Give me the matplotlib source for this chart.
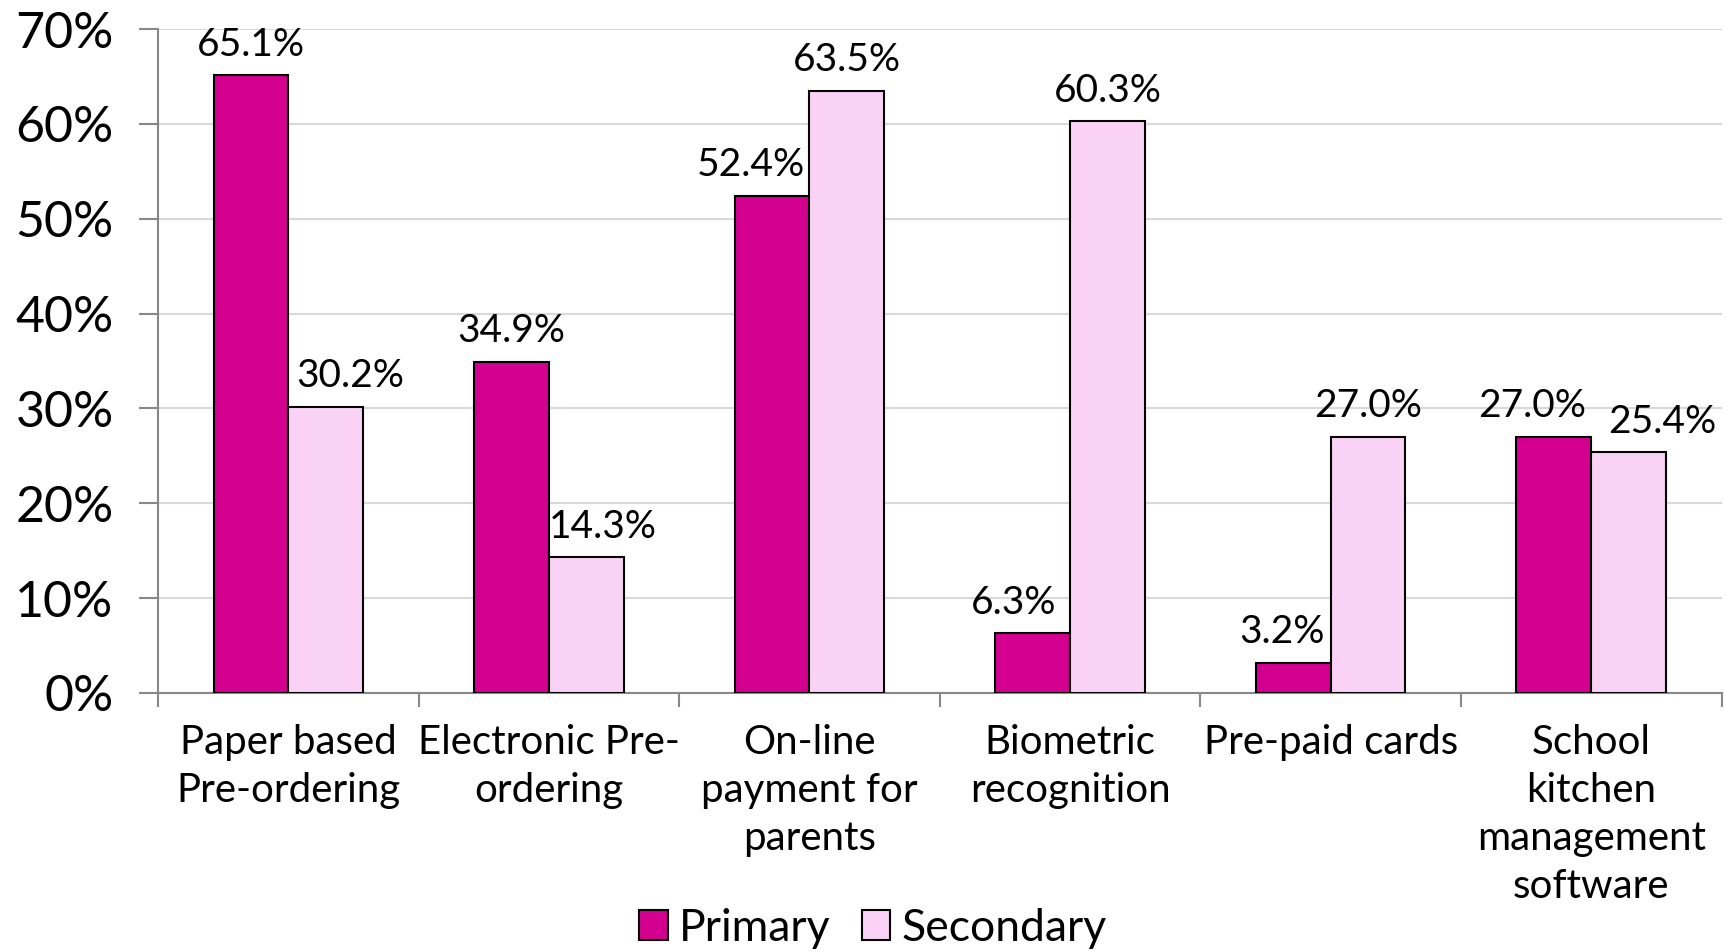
import numpy as np
import matplotlib.pyplot as plt
from matplotlib.patches import Patch

plt.rcParams['font.family'] = ['Lato', 'DejaVu Sans']

# Data
categories = ["Paper based\nPre-ordering", "Electronic Pre-\nordering",
              "On-line\npayment for\nparents", "Biometric\nrecognition",
              "Pre-paid cards", "School\nkitchen\nmanagement\nsoftware"]
primary = [65.1, 34.9, 52.4, 6.3, 3.2, 27.0]
secondary = [30.2, 14.3, 63.5, 60.3, 27.0, 25.4]
series_names = ["Primary", "Secondary"]

# label nudges (x, in category units) as placed in the original
nudge_p = [0, 0, -0.08, -0.072, -0.042, -0.084]
nudge_s = [0.093, 0.063, 0, 0, 0, 0.13]

col_p = '#D4008F'
col_s = '#FAD2F5'

fig = plt.figure(figsize=(17.25, 9.51), dpi=100)
ax = fig.add_axes([0.0916, 0.2713, 0.9064, 0.6982])

x = np.arange(len(categories))
w = 0.287
ax.bar(x - w/2, primary, w, color=col_p, edgecolor='black', linewidth=1.5, zorder=3)
ax.bar(x + w/2, secondary, w, color=col_s, edgecolor='black', linewidth=1.5, zorder=3)

for i in range(len(x)):
    ax.annotate(f"{primary[i]:.1f}%", (x[i] - w/2 + nudge_p[i], primary[i]),
                xytext=(0, 9), textcoords='offset points', ha='center', va='bottom', fontsize=28)
    ax.annotate(f"{secondary[i]:.1f}%", (x[i] + w/2 + nudge_s[i], secondary[i]),
                xytext=(0, 9), textcoords='offset points', ha='center', va='bottom', fontsize=28)

ax.set_xlim(-0.5, len(categories) - 0.5)
ax.set_ylim(0, 70)
ax.set_yticks(np.arange(0, 71, 10))
ax.set_yticklabels([f"{v}%" for v in range(0, 71, 10)], fontsize=36)
ax.yaxis.grid(True, color='#D9D9D9', linewidth=1.5, zorder=0)
ax.set_axisbelow(True)

# category labels between boundary ticks
ax.set_xticks(np.arange(-0.5, len(categories), 1.0))
ax.set_xticklabels([])
ax.set_xticks(x, minor=True)
ax.set_xticklabels(categories, minor=True, fontsize=29, linespacing=1.37)
ax.tick_params(axis='x', which='minor', length=0, pad=22)
ax.tick_params(axis='x', which='major', length=10, color='#888888', width=1.5)
ax.tick_params(axis='y', length=14, color='#888888', width=1.5, pad=18)

for s in ['top', 'right']:
    ax.spines[s].set_visible(False)
ax.spines['left'].set_color('#888888')
ax.spines['bottom'].set_color('#888888')
ax.spines['left'].set_linewidth(1.5)
ax.spines['bottom'].set_linewidth(1.5)

handles = [Patch(facecolor=col_p, edgecolor='black', linewidth=1.5),
           Patch(facecolor=col_s, edgecolor='black', linewidth=1.5)]
fig.legend(handles, series_names, loc='center', bbox_to_anchor=(0.506, 0.024), ncol=2,
           frameon=False, fontsize=32, handlelength=0.65, handleheight=0.65,
           handletextpad=0.25, columnspacing=0.7, borderpad=0)

fig.savefig('out.png', dpi=100)
